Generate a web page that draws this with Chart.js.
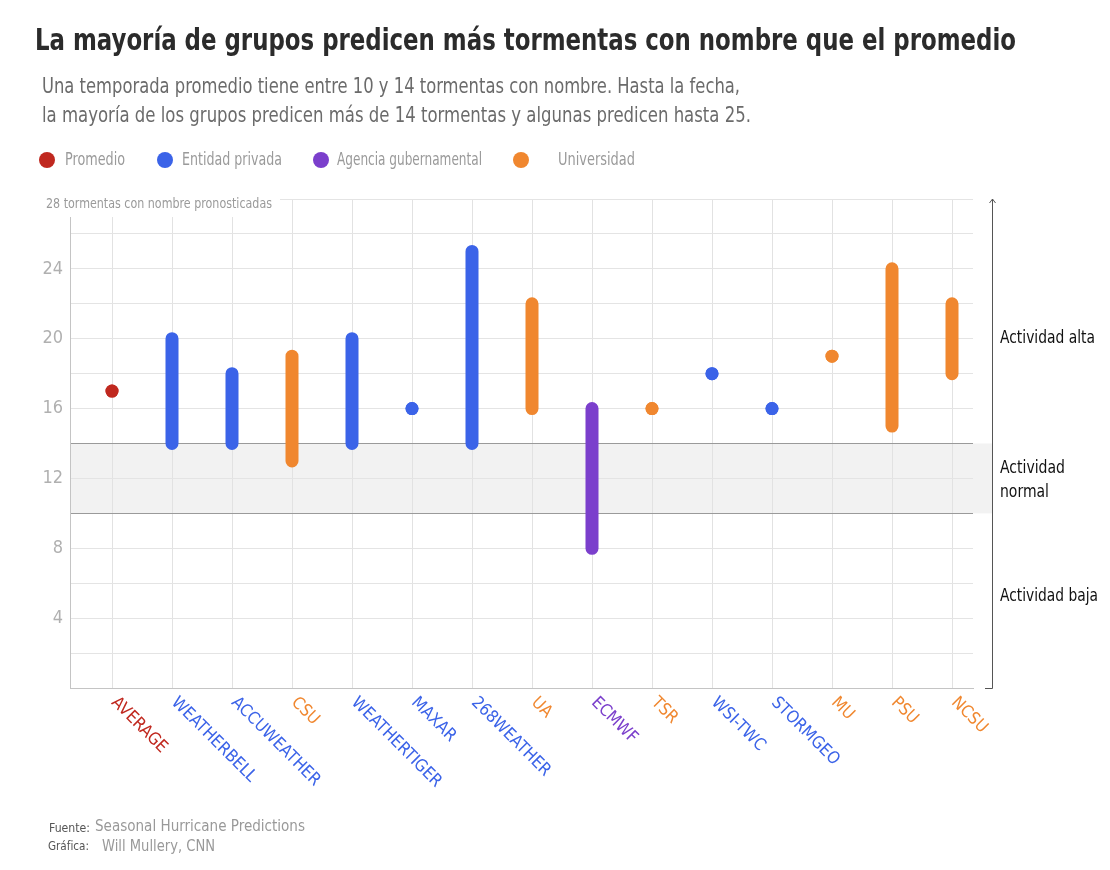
<!DOCTYPE html>
<html lang="es">
<head>
<meta charset="utf-8">
<script src="https://cdn.jsdelivr.net/npm/chart.js@4.4.1/dist/chart.umd.min.js"></script>
<style>
  body { margin: 0; background: #fff; font-family: "Liberation Sans Narrow", "DejaVu Sans Condensed", Roboto, sans-serif; }
  #lienzo { position: absolute; left: 0; top: 0; }
  .txt { position: absolute; white-space: nowrap; transform-origin: 0 0; }
  #titulo { left: 35px; top: 25px; font-size: 30px; line-height: 30px; font-weight: bold; color: #2b2b2b; }
  .sub { left: 42px; font-size: 21px; line-height: 28px; color: #6b6b6b; }
  .leyenda { top: 151px; font-size: 17px; line-height: 17px; color: #9a9a9a; }
  .punto { position: absolute; top: 152px; width: 16px; height: 16px; border-radius: 50%; }
  .nota { left: 1000px; font-size: 18px; line-height: 24px; color: #111; }
  .fuente { font-size: 13px; line-height: 16px; color: #555; }
  .fuente2 { font-size: 16px; line-height: 16px; color: #999; }
</style>
</head>
<body>
<canvas id="lienzo" width="1110" height="870"></canvas>

<div id="titulo" class="txt" data-w="981">La mayoría de grupos predicen más tormentas con nombre que el promedio</div>
<div class="txt sub" style="top:72px" data-w="698">Una temporada promedio tiene entre 10 y 14 tormentas con nombre. Hasta la fecha,</div>
<div class="txt sub" style="top:101px" data-w="709">la mayoría de los grupos predicen más de 14 tormentas y algunas predicen hasta 25.</div>

<div class="punto" style="left:39px;background:#c0281f"></div>
<div class="txt leyenda" style="left:65px" data-w="60">Promedio</div>
<div class="punto" style="left:157px;background:#3b63e8"></div>
<div class="txt leyenda" style="left:182px" data-w="100">Entidad privada</div>
<div class="punto" style="left:313px;background:#7b3fcc"></div>
<div class="txt leyenda" style="left:337px" data-w="145">Agencia gubernamental</div>
<div class="punto" style="left:513px;background:#f0872f"></div>
<div class="txt leyenda" style="left:558px" data-w="77">Universidad</div>

<div class="txt nota" style="top:325px" data-w="95">Actividad alta</div>
<div class="txt nota" style="top:455px" data-w="65">Actividad</div>
<div class="txt nota" style="top:479px" data-w="49">normal</div>
<div class="txt nota" style="top:583px" data-w="98">Actividad baja</div>

<div class="txt fuente" style="left:49px;top:820px" data-w="41">Fuente:</div>
<div class="txt fuente2" style="left:95px;top:818px" data-w="210">Seasonal Hurricane Predictions</div>
<div class="txt fuente" style="left:48px;top:838px" data-w="41">Gráfica:</div>
<div class="txt fuente2" style="left:102px;top:838px" data-w="113">Will Mullery, CNN</div>

<script>
// grupos que pronostican y su tipo
const grupos = ["AVERAGE", "WEATHERBELL", "ACCUWEATHER", "CSU", "WEATHERTIGER", "MAXAR", "268WEATHER",
    "UA", "ECMWF", "TSR", "WSI-TWC", "STORMGEO", "MU", "PSU", "NCSU"];
const tipos = ["promedio", "privada", "privada", "universidad", "privada", "privada", "privada",
    "universidad", "gobierno", "universidad", "privada", "privada", "universidad", "universidad", "universidad"];

// tormentas con nombre pronosticadas (mínimo y máximo)
const minimos = [17, 14, 14, 13, 14, 16, 14, 16, 8, 16, 18, 16, 19, 15, 18];
const maximos = [17, 20, 18, 19, 20, 16, 25, 22, 16, 16, 18, 16, 19, 24, 22];

// eje vertical
const ticksY = [4, 8, 12, 16, 20, 24];
const actividadNormal = [10, 14];

const colores = {
    promedio: "#c0281f",
    privada: "#3b63e8",
    gobierno: "#7b3fcc",
    universidad: "#f0872f"
};
const fuente = '"Liberation Sans Narrow", "DejaVu Sans Condensed", Roboto, sans-serif';

// el texto se estrecha hasta el ancho del original
document.querySelectorAll("[data-w]").forEach(el => {
    const ancho = el.getBoundingClientRect().width;
    el.style.transform = `scaleX(${Number(el.dataset.w) / ancho})`;
});

// una serie por tipo: rangos como líneas, valores únicos como puntos
function construirSerie(tipo) {
    const puntos = [];
    grupos.forEach((g, i) => {
        if (tipos[i] !== tipo) return;
        if (minimos[i] === maximos[i]) {
            puntos.push({ x: i, y: minimos[i], solo: true });
        } else {
            puntos.push({ x: i, y: minimos[i] }, { x: i, y: maximos[i] });
        }
        puntos.push({ x: i, y: null });
    });
    return puntos;
}

const datasets = Object.keys(colores).map(tipo => ({
    label: tipo,
    data: construirSerie(tipo),
    borderColor: colores[tipo],
    backgroundColor: colores[tipo],
    borderWidth: 13,
    borderCapStyle: "round",
    spanGaps: false,
    fill: false,
    pointRadius: ctx => (ctx.raw && ctx.raw.solo ? 6.5 : 0),
    pointBorderWidth: 0,
    pointBackgroundColor: colores[tipo]
}));

// franja gris de actividad normal
const franja = {
    id: "franja",
    beforeDraw(chart) {
        const { ctx, chartArea, scales } = chart;
        const y1 = scales.y.getPixelForValue(actividadNormal[1]);
        const y0 = scales.y.getPixelForValue(actividadNormal[0]);
        ctx.save();
        ctx.fillStyle = "#f2f2f2";
        ctx.fillRect(chartArea.left, y1, chartArea.right + 19 - chartArea.left, y0 - y1);
        ctx.restore();
    }
};

// etiquetas inclinadas, rótulo superior y eje derecho
const extras = {
    id: "extras",
    beforeDatasetsDraw(chart) {
        const { ctx, chartArea } = chart;
        const rotulo = "28 tormentas con nombre pronosticadas";
        ctx.save();
        ctx.fillStyle = "#fff";
        ctx.fillRect(35, chartArea.top - 8, 245, 26);
        ctx.fillStyle = "#9a9a9a";
        ctx.font = "14px " + fuente;
        ctx.textBaseline = "middle";
        const ancho = ctx.measureText(rotulo).width;
        ctx.translate(46, chartArea.top + 5);
        ctx.scale(226 / ancho, 1);
        ctx.fillText(rotulo, 0, 0);
        ctx.restore();
    },
    afterDraw(chart) {
        const { ctx, chartArea, scales } = chart;
        ctx.save();
        ctx.font = "17px " + fuente;
        ctx.textAlign = "left";
        ctx.textBaseline = "middle";
        grupos.forEach((g, i) => {
            const x = scales.x.getPixelForValue(i);
            ctx.save();
            ctx.translate(x + 2, chartArea.bottom + 12);
            ctx.rotate(Math.PI / 4);
            ctx.fillStyle = colores[tipos[i]];
            ctx.fillText(g, 0, 0);
            ctx.restore();
        });

        const xd = chartArea.right + 19;
        ctx.strokeStyle = "#555";
        ctx.lineWidth = 1;
        ctx.beginPath();
        ctx.moveTo(xd - 7, chartArea.bottom + 0.5);
        ctx.lineTo(xd + 0.5, chartArea.bottom + 0.5);
        ctx.lineTo(xd + 0.5, chartArea.top);
        ctx.moveTo(xd - 2.5, chartArea.top + 4);
        ctx.lineTo(xd + 0.5, chartArea.top);
        ctx.lineTo(xd + 3.5, chartArea.top + 4);
        ctx.stroke();
        ctx.restore();
    }
};

const ctx = document.getElementById("lienzo").getContext("2d");
const grafico = new Chart(ctx, {
    type: "line",
    data: { datasets: datasets },
    plugins: [franja, extras],
    options: {
        responsive: false,
        animation: false,
        events: [],
        devicePixelRatio: 1,
        layout: { padding: { top: 199, left: 0, right: 137, bottom: 182 } },
        plugins: { legend: { display: false }, tooltip: { enabled: false } },
        scales: {
            x: {
                type: "linear",
                min: -0.7,
                max: 14.35,
                afterBuildTicks: axis => { axis.ticks = grupos.map((g, i) => ({ value: i })); },
                afterFit: axis => { axis.height = 0; },
                ticks: { display: false },
                grid: { color: "#e2e2e2", drawTicks: false },
                border: { color: "#c4c4c4" }
            },
            y: {
                min: 0,
                max: 28,
                afterFit: axis => { axis.width = 70; },
                ticks: {
                    stepSize: 2,
                    padding: 7,
                    color: "#b0b0b0",
                    font: { family: fuente, size: 18 },
                    callback: v => (ticksY.includes(v) ? v : "")
                },
                grid: {
                    drawTicks: false,
                    color: c => (actividadNormal.includes(c.tick.value) ? "#9a9a9a" : "#e4e4e4")
                },
                border: { color: "#c4c4c4" }
            }
        }
    }
});
</script>
</body>
</html>
